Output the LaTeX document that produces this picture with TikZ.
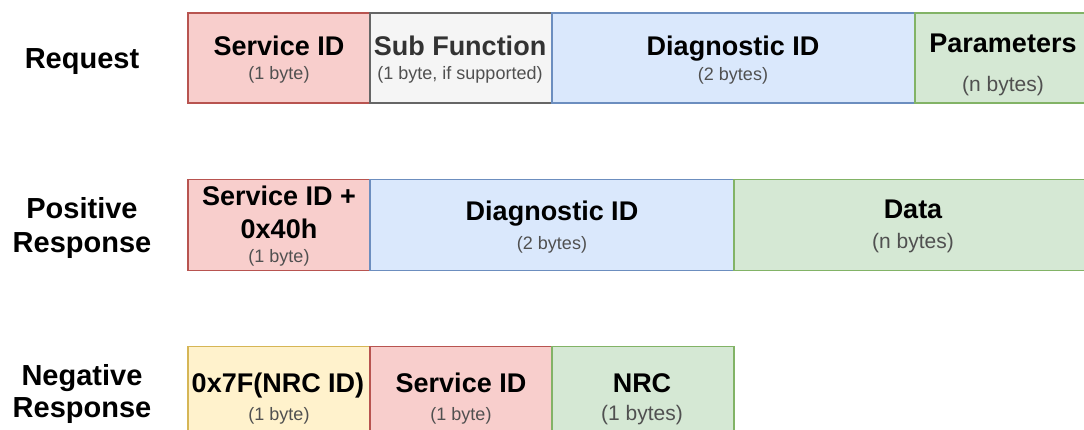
\documentclass[tikz,border=0pt]{standalone}
\usepackage{fontspec}
\setmainfont{Liberation Sans}
\definecolor{redfill}{HTML}{F8CECC}\definecolor{redline}{HTML}{B85450}
\definecolor{grayfill}{HTML}{F5F5F5}\definecolor{grayline}{HTML}{666666}
\definecolor{bluefill}{HTML}{DAE8FC}\definecolor{blueline}{HTML}{6C8EBF}
\definecolor{greenfill}{HTML}{D5E8D4}\definecolor{greenline}{HTML}{82B366}
\definecolor{yellowfill}{HTML}{FFF2CC}\definecolor{yellowline}{HTML}{D6B656}
\definecolor{subtext}{HTML}{505050}
\definecolor{darktext}{HTML}{333333}
\begin{document}
\begin{tikzpicture}[x=1pt,y=-1pt,
  field/.style={draw, line width=1.2pt, inner sep=0pt, outer sep=0pt},
  redbox/.style={field, fill=redfill, draw=redline},
  graybox/.style={field, fill=grayfill, draw=grayline},
  bluebox/.style={field, fill=bluefill, draw=blueline},
  greenbox/.style={field, fill=greenfill, draw=greenline},
  yellowbox/.style={field, fill=yellowfill, draw=yellowline},
  title/.style={anchor=base, inner sep=0pt, font=\fontsize{27}{32}\selectfont\bfseries},
  note/.style={anchor=base, inner sep=0pt, text=subtext, font=\fontsize{18}{21}\selectfont},
  bignote/.style={note, font=\fontsize{21}{25}\selectfont},
  rowlabel/.style={anchor=base, inner sep=0pt, font=\fontsize{29}{34}\selectfont\bfseries}]
\useasboundingbox (0,0) rectangle (1084,429);
\clip (0,0) rectangle (1084,429);
\fill[white] (0,0) rectangle (1084,429);

% Request frame
\node[redbox, minimum width=182pt, minimum height=90pt] (rq1) at (279,58) {};
\node[graybox, minimum width=182pt, minimum height=90pt] (rq2) at (461,58) {};
\node[bluebox, minimum width=363pt, minimum height=90pt] (rq3) at (733.5,58) {};
\node[greenbox, minimum width=181pt, minimum height=90pt] (rq4) at (1005.5,58) {};

% Positive response frame
\node[redbox, minimum width=182pt, minimum height=91pt] (pr1) at (279,225) {};
\node[bluebox, minimum width=364pt, minimum height=91pt] (pr2) at (552,225) {};
\node[greenbox, minimum width=362pt, minimum height=91pt] (pr3) at (915,225) {};

% Negative response frame
\node[yellowbox, minimum width=182pt, minimum height=91pt] (nr1) at (279,392) {};
\node[redbox, minimum width=182pt, minimum height=91pt] (nr2) at (461,392) {};
\node[greenbox, minimum width=182pt, minimum height=91pt] (nr3) at (643,392) {};

% Row labels
\node[rowlabel] (lreq) at (82,68) {Request};
\node[rowlabel] (lpos1) at (82,218) {Positive};
\node[rowlabel] (lpos2) at (82,252) {Response};
\node[rowlabel] (lneg1) at (82,385) {Negative};
\node[rowlabel] (lneg2) at (82,417) {Response};

% Request texts
\node[title] (t1) at (279,55) {Service ID};
\node[note] (n1) at (279,79) {(1 byte)};
\node[title, text=darktext] (t2) at (460,55) {Sub Function};
\node[note] (n2) at (460,79) {(1 byte, if supported)};
\node[title] (t3) at (733,55) {Diagnostic ID};
\node[note] (n3) at (733,80) {(2 bytes)};
\node[title] (t4) at (1003,52) {Parameters};
\node[bignote] (n4) at (1003,91) {(n bytes)};

% Positive response texts
\node[title] (t5) at (279,205) {Service ID +};
\node[title] (t6) at (279,238) {0x40h};
\node[note] (n5) at (279,262) {(1 byte)};
\node[title] (t7) at (552,220) {Diagnostic ID};
\node[note] (n7) at (552,249) {(2 bytes)};
\node[title] (t8) at (913,218) {Data};
\node[bignote] (n8) at (913,248) {(n bytes)};

% Negative response texts
\node[title] (t9) at (278,392) {0x7F(NRC ID)};
\node[note] (n9) at (279,420) {(1 byte)};
\node[title] (t10) at (461,392) {Service ID};
\node[note] (n10) at (461,420) {(1 byte)};
\node[title] (t11) at (642,392) {NRC};
\node[bignote] (n11) at (642,420) {(1 bytes)};
\end{tikzpicture}
\end{document}
